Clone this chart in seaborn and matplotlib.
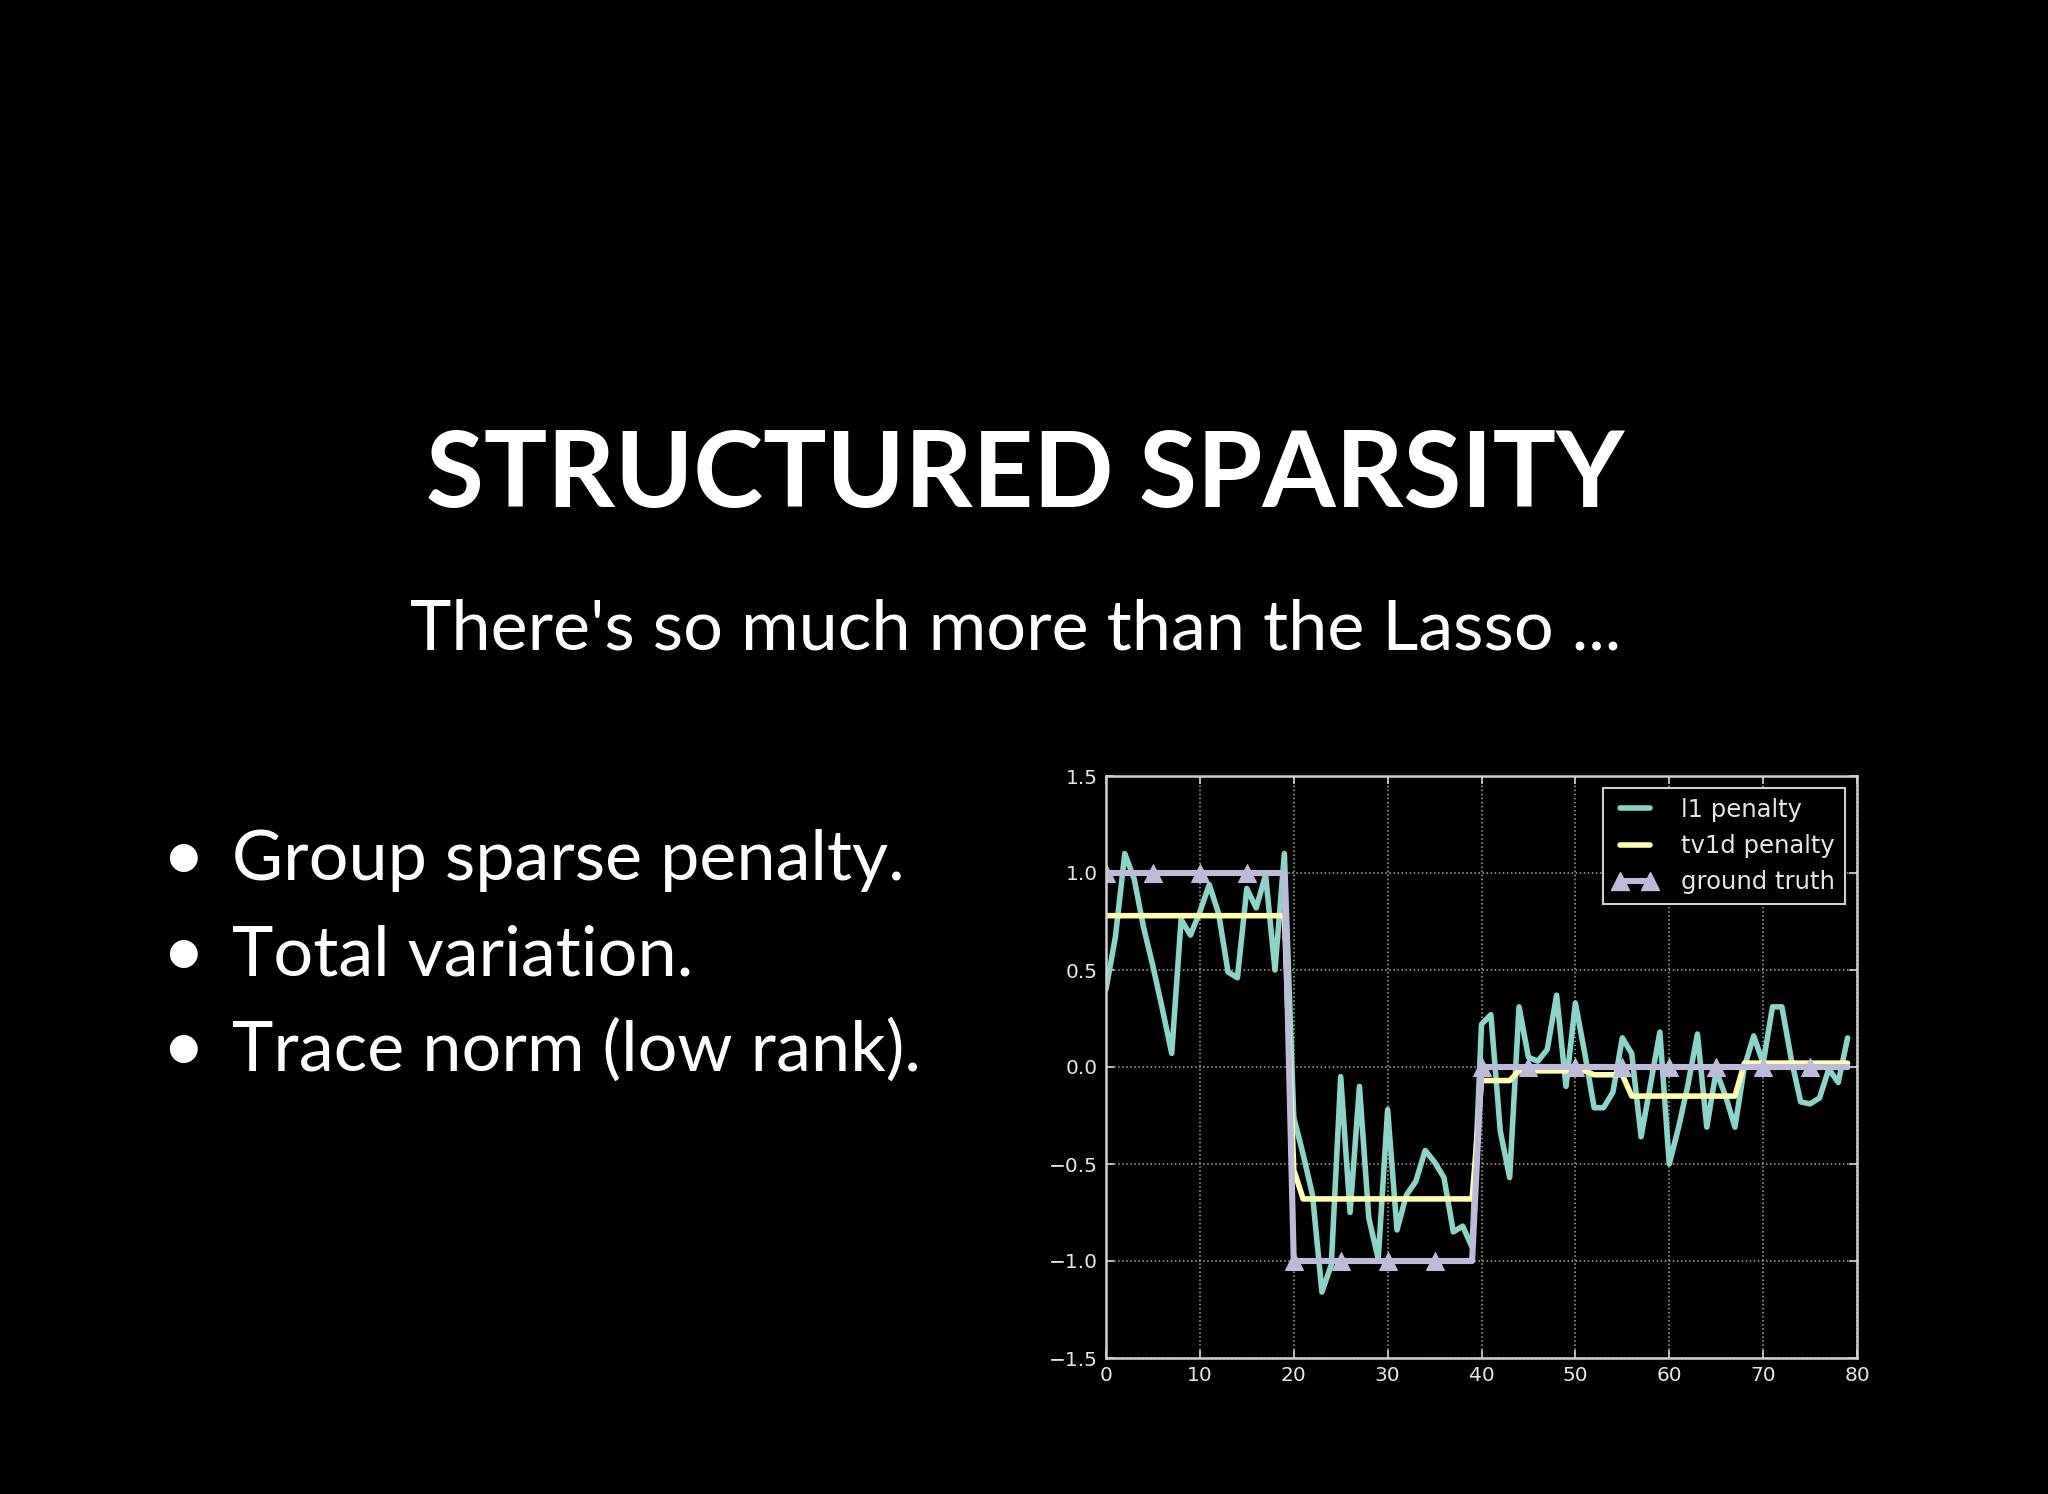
import numpy as np
import pandas as pd
import matplotlib
matplotlib.use("Agg")
import matplotlib.pyplot as plt
from matplotlib.lines import Line2D
import seaborn as sns

# ---------------- data ----------------
x_index = list(range(80))
l1_penalty = [0.40, 0.67, 1.10, 0.97, 0.72, 0.52, 0.30, 0.07, 0.76, 0.68,
              0.80, 0.94, 0.79, 0.49, 0.46, 0.92, 0.82, 0.99, 0.50, 1.10,
              -0.26, -0.45, -0.66, -1.16, -1.02, -0.05, -0.75, -0.10, -0.78, -0.99,
              -0.22, -0.84, -0.66, -0.59, -0.43, -0.49, -0.57, -0.85, -0.82, -0.93,
              0.22, 0.27, -0.33, -0.57, 0.31, 0.05, 0.03, 0.09, 0.37, -0.10,
              0.33, 0.07, -0.21, -0.21, -0.13, 0.15, 0.07, -0.36, -0.09, 0.18,
              -0.50, -0.31, -0.09, 0.17, -0.31, -0.02, -0.15, -0.31, 0.00, 0.16,
              0.02, 0.31, 0.31, 0.04, -0.18, -0.19, -0.16, -0.01, -0.08, 0.15]
tv1d_penalty = ([0.78] * 20 + [-0.53] + [-0.68] * 19 + [-0.07] * 4 + [-0.02] * 8
                + [-0.04] * 4 + [-0.15] * 12 + [0.02] * 12)
ground_truth = [1.0] * 20 + [-1.0] * 20 + [0.0] * 40
series_labels = ["l1 penalty", "tv1d penalty", "ground truth"]
x_ticks = [0, 10, 20, 30, 40, 50, 60, 70, 80]
y_ticks = [-1.5, -1.0, -0.5, 0.0, 0.5, 1.0, 1.5]

title_text = "STRUCTURED SPARSITY"
subtitle_text = "There's so much more than the Lasso ..."
bullets = ["Group sparse penalty.", "Total variation.", "Trace norm (low rank)."]

df = pd.DataFrame({"x": x_index, "l1": l1_penalty, "tv": tv1d_penalty, "gt": ground_truth})

# ---------------- style ----------------
sns.set_theme(style="ticks", rc={
    "figure.facecolor": "black",
    "axes.facecolor": "black",
    "savefig.facecolor": "black",
    "axes.edgecolor": "#d0d0d0",
    "text.color": "white",
    "xtick.color": "#d0d0d0",
    "ytick.color": "#d0d0d0",
    "xtick.labelcolor": "#e6e6e6",
    "ytick.labelcolor": "#e6e6e6",
})
plt.rcParams["font.family"] = ["DejaVu Sans"]

colors = sns.color_palette("Set3", 3)  # 8dd3c7, ffffb3, bebada

fig = plt.figure(figsize=(20.48, 14.94), dpi=100)
W, H = 2048, 1494
ax = fig.add_axes([1106 / W, 1 - 1358 / H, (1857 - 1106) / W, (1358 - 776) / H])

LW = 4.0
sns.lineplot(data=df, x="x", y="l1", ax=ax, color=colors[0], lw=LW, label=series_labels[0])
sns.lineplot(data=df, x="x", y="tv", ax=ax, color=colors[1], lw=LW, label=series_labels[1])
sns.lineplot(data=df, x="x", y="gt", ax=ax, color=colors[2], lw=4.4, marker="^",
             markevery=5, markersize=13, markeredgecolor=colors[2],
             label=series_labels[2])

ax.set_xlim(0, 80)
ax.set_ylim(-1.5, 1.5)
ax.set_xticks(x_ticks)
ax.set_yticks(y_ticks)
ax.set_xticklabels([str(t) for t in x_ticks])
ax.set_yticklabels([f"{t:.1f}".replace("-", "\u2212") for t in y_ticks])
ax.set_xlabel("")
ax.set_ylabel("")
ax.grid(True, linestyle=":", color="#a8a8a8", lw=1.1)
for s in ax.spines.values():
    s.set_visible(True)
    s.set_color("#d0d0d0")
    s.set_linewidth(1.8)
ax.tick_params(direction="in", top=True, right=True, length=6, width=1.2,
               labelsize=14.5, pad=6)

handles = [Line2D([], [], color=colors[0], lw=LW),
           Line2D([], [], color=colors[1], lw=LW),
           Line2D([], [], color=colors[2], lw=4.4, marker="^", markersize=13)]
leg = ax.legend(handles, series_labels, loc="upper right", numpoints=2, fontsize=17.5,
                frameon=True, fancybox=False, framealpha=1.0, facecolor="black",
                edgecolor="#d0d0d0", handlelength=1.8, borderpad=0.4,
                labelspacing=0.5, handletextpad=1.0, borderaxespad=0.5)
leg.get_frame().set_linewidth(1.5)
for t in leg.get_texts():
    t.set_color("#e6e6e6")

# ---------------- slide text ----------------
fam = ["Lato", "DejaVu Sans"]
fig.text(1025 / W, 1 - 507 / H, title_text, ha="center", va="baseline",
         fontsize=76, fontweight="bold", family=fam, color="white")
fig.text(1016 / W, 1 - 649 / H, subtitle_text, ha="center", va="baseline",
         fontsize=50.5, family=fam, color="white")
for i, b in enumerate(bullets):
    yb = 1 - (880 + i * 95.5) / H
    fig.text(183 / W, yb, "\u2022", ha="center", va="baseline", fontsize=54,
             family=fam, color="white")
    fig.text(232 / W, yb, b, ha="left", va="baseline", fontsize=50.5,
             family=fam, color="white")

fig.savefig("out.png", dpi=100, facecolor="black")
